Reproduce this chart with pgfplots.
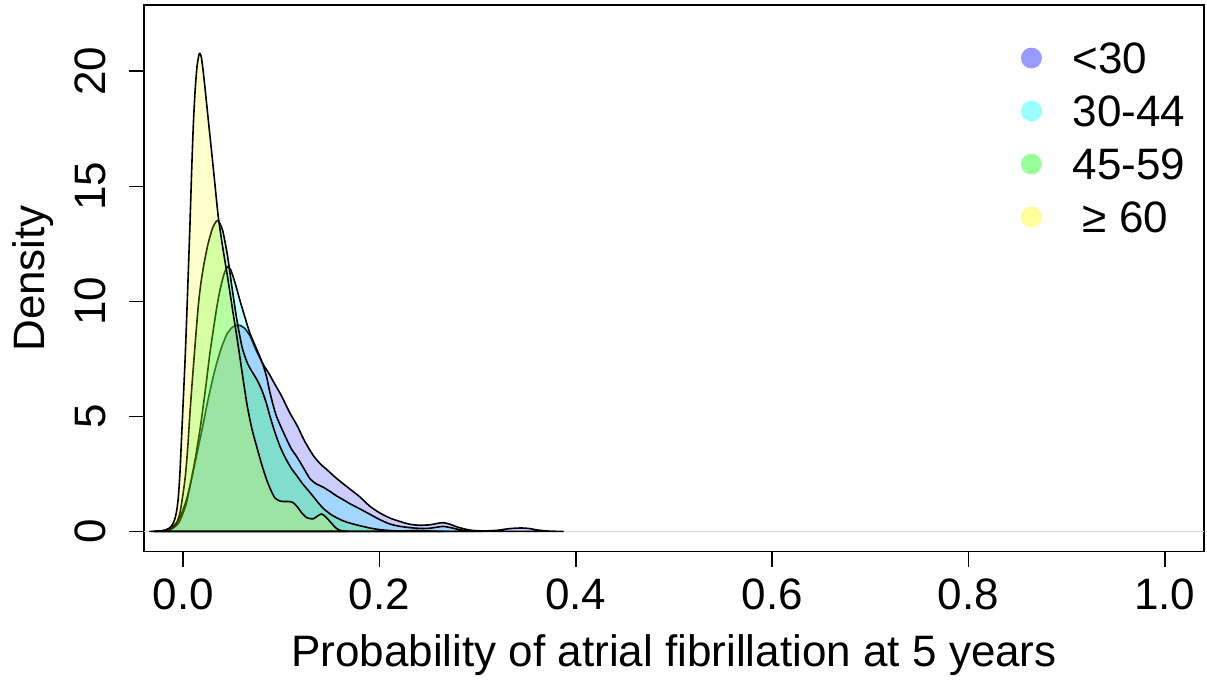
\documentclass[border=0pt]{standalone}
\usepackage{fontspec}
\setmainfont{Liberation Sans}
\usepackage{pgfplots}
\pgfplotsset{compat=1.18}
\definecolor{cB}{RGB}{0,0,255}
\definecolor{cC}{RGB}{0,255,255}
\definecolor{cG}{RGB}{0,255,0}
\definecolor{cY}{RGB}{255,255,0}
\definecolor{lB}{HTML}{9999FF}
\definecolor{lC}{HTML}{99FFFF}
\definecolor{lG}{HTML}{99FF99}
\definecolor{lY}{HTML}{FFFF99}
\newcommand{\bigfont}{\fontsize{22}{26.4}\selectfont}
\begin{document}
\begin{tikzpicture}
\path (-72pt,-66.65pt) rectangle (531.5pt,275.85pt);
\begin{axis}[
  at={(0,0)}, anchor=south west,
  width=530pt, height=273.35pt, scale only axis,
  xmin=-0.04, xmax=1.04, ymin=-0.88, ymax=22.88,
  axis line style={black, line width=0.8pt},
  tick style={black, line width=0.8pt},
  tick align=outside, major tick length=7.5pt,
  xtick={0,0.2,0.4,0.6,0.8,1.0},
  xticklabels={0.0,0.2,0.4,0.6,0.8,1.0},
  ytick={0,5,10,15,20},
  xtick pos=bottom, ytick pos=left,
  /pgf/number format/assume math mode=true,
  tick label style={font=\bigfont, inner sep=0pt},
  xticklabel style={anchor=base, yshift=-21.15pt},
  yticklabel style={xshift=-11.5pt, rotate=90, anchor=base},
  xlabel={Probability of atrial fibrillation at 5 years},
  xlabel style={at={(axis description cs:0.5,-0.2091)}, anchor=base, inner sep=0pt, font=\bigfont},
  ylabel={Density},
  ylabel style={at={(axis description cs:-0.0934,0.5)}, anchor=base, inner sep=0pt, font=\bigfont},
  legend cell align=left,
  legend style={at={(axis description cs:0.8274,0.9319)}, anchor=north west, draw=none, fill=none,
    inner sep=0pt, outer sep=0pt, row sep=10.7pt, column sep=15.5pt, font=\bigfont,
    nodes={inner sep=0pt, text height=15.8pt, text depth=0pt}},
  every axis plot/.append style={line join=round},
]
\addplot[gray!30, line width=0.4pt, forget plot] coordinates {(-0.04,0) (1.04,0)};

% <30
\addplot[smooth, tension=0.4, fill=cB, fill opacity=0.2, draw=black, line width=0.8pt, forget plot] coordinates {
(-0.034,0) (-0.028,0.005) (-0.022,0.03) (-0.017,0.08) (-0.012,0.18) (-0.0068,0.38) (-0.002,0.75)
(0.0034,1.4) (0.008,2.2) (0.0136,3.3) (0.019,4.4) (0.0238,5.42) (0.029,6.45) (0.034,7.3)
(0.039,8.0) (0.0442,8.55) (0.050,8.88) (0.0562,8.97) (0.062,8.85) (0.068,8.5) (0.074,7.9)
(0.0816,7.25) (0.0875,6.85) (0.092,6.5) (0.100,5.9) (0.108,5.2) (0.116,4.6) (0.124,3.9)
(0.1325,3.3) (0.140,2.92) (0.146,2.7) (0.155,2.35) (0.1666,1.95) (0.180,1.5) (0.190,1.1)
(0.2005,0.8) (0.2107,0.58) (0.221,0.43) (0.231,0.31) (0.241,0.27) (0.2515,0.29) (0.259,0.35)
(0.265,0.38) (0.272,0.31) (0.2787,0.2) (0.2854,0.12) (0.292,0.06) (0.300,0.03) (0.3126,0.03)
(0.322,0.06) (0.330,0.11) (0.338,0.14) (0.345,0.15) (0.352,0.13) (0.36,0.07) (0.368,0.03)
(0.376,0.01) (0.387,0)
} \closedcycle;

% 30-44
\addplot[smooth, tension=0.4, fill=cC, fill opacity=0.2, draw=black, line width=0.8pt, forget plot] coordinates {
(-0.03,0) (-0.022,0.02) (-0.016,0.06) (-0.0102,0.16) (-0.005,0.35) (-0.0016,0.65) (0.003,1.2)
(0.0068,1.95) (0.012,3.1) (0.017,4.41) (0.0205,5.5) (0.0238,6.58) (0.027,7.7) (0.0306,8.75)
(0.034,9.7) (0.037,10.4) (0.040,10.95) (0.0425,11.3) (0.045,11.5) (0.048,11.4) (0.051,11.05)
(0.0545,10.55) (0.058,10.0) (0.0615,9.5) (0.065,9.0) (0.068,8.6) (0.071,8.3) (0.0745,7.95)
(0.078,7.6) (0.0816,7.2) (0.085,6.7) (0.088,6.1) (0.0915,5.5) (0.095,5.0) (0.100,4.5)
(0.1054,4.0) (0.110,3.6) (0.1156,3.25) (0.122,2.8) (0.129,2.3) (0.135,2.08) (0.1427,1.92)
(0.1495,1.74) (0.156,1.55) (0.163,1.38) (0.170,1.2) (0.180,0.98) (0.190,0.75) (0.200,0.52)
(0.2107,0.32) (0.221,0.22) (0.2345,0.15) (0.2435,0.13) (0.2515,0.14) (0.259,0.19) (0.265,0.22)
(0.272,0.17) (0.28,0.09) (0.287,0.04) (0.295,0.01) (0.305,0)
} \closedcycle;

% 45-59
\addplot[smooth, tension=0.4, fill=cG, fill opacity=0.2, draw=black, line width=0.8pt, forget plot] coordinates {
(-0.03,0) (-0.02,0.02) (-0.015,0.06) (-0.0085,0.22) (-0.0034,0.8) (0.0017,2.24) (0.0045,3.6)
(0.0068,5.14) (0.0095,6.7) (0.0119,8.03) (0.0153,9.8) (0.018,10.8) (0.021,11.6) (0.025,12.45)
(0.030,13.2) (0.035,13.52) (0.040,13.1) (0.045,12.0) (0.050,10.5) (0.055,9.1) (0.060,8.0)
(0.065,7.35) (0.070,6.95) (0.075,6.6) (0.080,6.15) (0.0845,5.6) (0.0884,5.0) (0.0935,4.3)
(0.0986,3.69) (0.104,3.2) (0.110,2.75) (0.116,2.4) (0.122,2.05) (0.127,1.8) (0.1325,1.52)
(0.1375,1.25) (0.1427,1.0) (0.150,0.75) (0.156,0.6) (0.163,0.46) (0.170,0.36) (0.180,0.25)
(0.190,0.15) (0.200,0.08) (0.210,0.04) (0.218,0.025) (0.228,0.03) (0.238,0.04) (0.246,0.03)
(0.255,0.01) (0.265,0)
} \closedcycle;

% >=60
\addplot[smooth, tension=0.4, fill=cY, fill opacity=0.2, draw=black, line width=0.8pt, forget plot] coordinates {
(-0.03,0) (-0.024,0.01) (-0.019,0.04) (-0.014,0.15) (-0.011,0.3) (-0.0085,0.55) (-0.0065,0.95)
(-0.005,1.5) (-0.0033,2.6) (-0.0016,4.2) (0.000,5.7) (0.002,7.6) (0.004,9.9) (0.0068,13.3)
(0.0085,15.6) (0.0102,17.6) (0.012,19.1) (0.014,20.2) (0.016,20.72) (0.017,20.78) (0.0185,20.6)
(0.0203,20.0) (0.0221,19.3) (0.025,18.1) (0.0289,16.5) (0.032,15.2) (0.0357,13.67) (0.040,12.4)
(0.045,11.1) (0.050,9.7) (0.055,8.35) (0.060,6.9) (0.065,5.5) (0.070,4.45) (0.0748,3.69)
(0.080,2.9) (0.085,2.24) (0.090,1.72) (0.0935,1.45) (0.098,1.33) (0.102,1.30) (0.108,1.30)
(0.112,1.25) (0.116,1.08) (0.1205,0.82) (0.1258,0.6) (0.1325,0.55) (0.137,0.68) (0.141,0.76)
(0.1455,0.62) (0.151,0.36) (0.155,0.17) (0.159,0.06) (0.163,0.02) (0.168,0)
} \closedcycle;

\addlegendimage{legend image code/.code={\fill[lB] (0pt,0pt) circle (5pt);}}
\addlegendentry{<30}
\addlegendimage{legend image code/.code={\fill[lC] (0pt,0pt) circle (5pt);}}
\addlegendentry{30-44}
\addlegendimage{legend image code/.code={\fill[lG] (0pt,0pt) circle (5pt);}}
\addlegendentry{45-59}
\addlegendimage{legend image code/.code={\fill[lY] (0pt,0pt) circle (5pt);}}
\addlegendentry{\hspace*{5pt}≥ 60}
\end{axis}
\end{tikzpicture}
\end{document}
